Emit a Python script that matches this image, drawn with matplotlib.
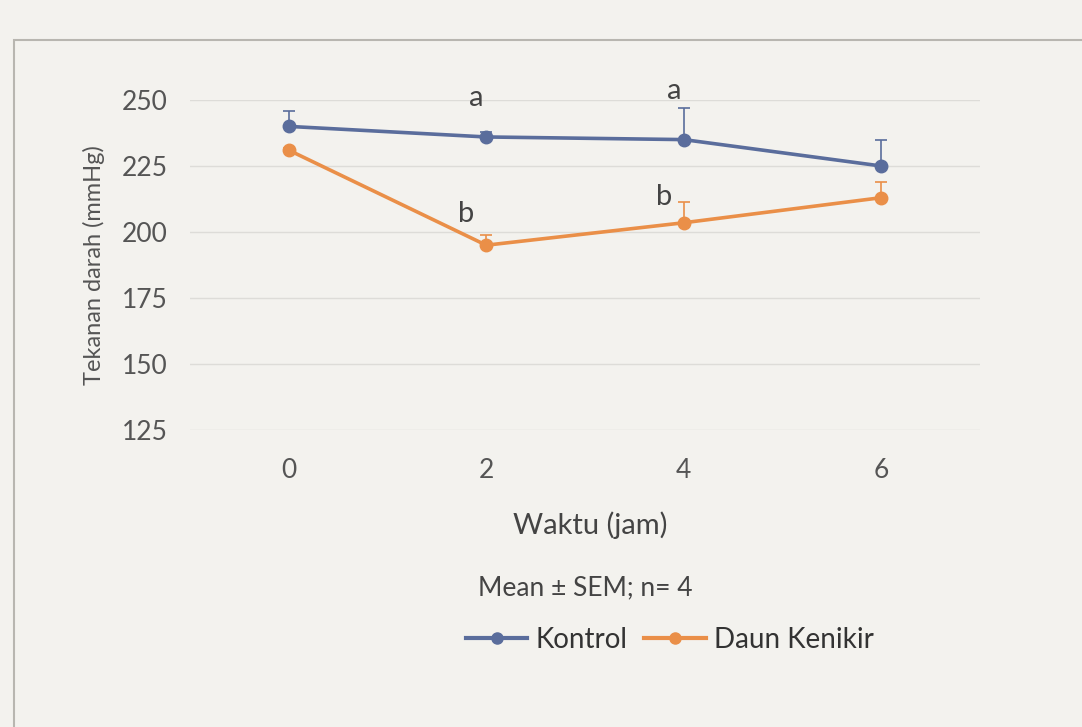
import matplotlib
matplotlib.use("Agg")
import matplotlib.pyplot as plt
from matplotlib.patches import Rectangle
from matplotlib.lines import Line2D

# ---- data ----
categories = ["0", "2", "4", "6"]
kontrol = [240, 236, 235, 225]
kontrol_sem = [6, 2, 12, 10]
kenikir = [231, 195, 203.5, 213]
kenikir_sem = [1, 4, 8, 6]
yticks = [125, 150, 175, 200, 225, 250]
letters_kontrol = ["", "a", "a", ""]
letters_kenikir = ["", "b", "b", ""]

plt.rcParams['font.family'] = ['Lato', 'DejaVu Sans']

W, H = 1082, 727
fig = plt.figure(figsize=(W / 100, H / 100), dpi=100)
bg = "#f3f2ee"
fig.patch.set_facecolor(bg)

# chart-area frame (top and left edges visible)
fig.add_artist(Rectangle((14 / W, -0.1), 1.2, 1 - 40 / H + 0.1,
                         transform=fig.transFigure, fill=False,
                         edgecolor="#b8b6b0", linewidth=1.5))

ax = fig.add_axes([190 / W, 1 - 430 / H, (980 - 190) / W, (430 - 100) / H])
ax.set_facecolor(bg)

x = list(range(len(categories)))
blue = "#5a6d9c"
orange = "#ea8f48"

for vals, sem, col in [(kontrol, kontrol_sem, blue), (kenikir, kenikir_sem, orange)]:
    ax.errorbar(x, vals, yerr=[[0] * len(sem), sem], color=col, ecolor=col,
                elinewidth=1.2, capsize=4, capthick=1.2, fmt="none", zorder=2)
    ax.plot(x, vals, color=col, linewidth=2.6, marker="o", markersize=9, zorder=3)

ax.set_ylim(125, 250)
ax.set_xlim(-0.5, len(categories) - 0.5)
ax.set_yticks(yticks)
ax.set_xticks(x)
ax.set_xticklabels(categories)
ax.grid(axis="y", color="#dddcd8", linewidth=1.0)
ax.set_axisbelow(True)
for s in ax.spines.values():
    s.set_visible(False)
ax.tick_params(length=0, labelsize=19, labelcolor="#555555")
ax.tick_params(axis="x", pad=20)
ax.tick_params(axis="y", pad=16)

ax.set_ylabel("Tekanan darah (mmHg)", fontsize=17, color="#555555", labelpad=12)

# significance letters
for i, (lk, lb) in enumerate(zip(letters_kontrol, letters_kenikir)):
    if lk:
        ax.text(i - 0.05, 246 if i == 1 else 248.5,
                lk, ha="center", va="bottom", fontsize=21, color="#444444")
    if lb:
        ax.text(i - 0.1, kenikir[i] + kenikir_sem[i] + (3 if i == 1 else -3), lb,
                ha="center", va="bottom", fontsize=21, color="#444444")

fig.text(590 / W, 1 - 525 / H, "Waktu (jam)", ha="center", va="center",
         fontsize=21, color="#444444")
fig.text(585 / W, 1 - 588 / H, "Mean \u00b1 SEM; n= 4", ha="center", va="center",
         fontsize=19, color="#444444")

handles = [Line2D([], [], color=blue, lw=3, marker="o", markersize=8),
           Line2D([], [], color=orange, lw=3, marker="o", markersize=8)]
fig.legend(handles, ["Kontrol", "Daun Kenikir"], loc="center",
           bbox_to_anchor=(670 / W, 1 - 640 / H), ncol=2, frameon=False,
           fontsize=20, handlelength=2.2, handletextpad=0.3, columnspacing=0.6,
           labelcolor="#333333")

fig.savefig("out.png", dpi=100, facecolor=bg)
